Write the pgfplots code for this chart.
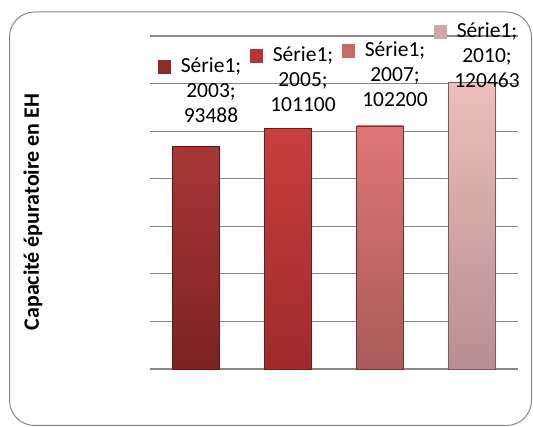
\documentclass[border=0pt]{standalone}
\usepackage{pgfplots}
\pgfplotsset{compat=1.18}
\usepackage{fontspec}
\setmainfont{Carlito}
\definecolor{gridgray}{HTML}{878787}
\definecolor{framegray}{HTML}{888888}
\definecolor{bAt}{HTML}{A83636}\definecolor{bAb}{HTML}{7E2222}\definecolor{bAd}{HTML}{5A1818}
\definecolor{bBt}{HTML}{C83E3E}\definecolor{bBb}{HTML}{9E2A2A}\definecolor{bBd}{HTML}{6A1C1C}
\definecolor{bCt}{HTML}{DE7676}\definecolor{bCb}{HTML}{AA5A5A}\definecolor{bCd}{HTML}{6E3434}
\definecolor{bDt}{HTML}{EDBEBE}\definecolor{bDb}{HTML}{B88E8E}\definecolor{bDd}{HTML}{7A5A5A}
\definecolor{kA}{HTML}{8E2A2A}\definecolor{kB}{HTML}{B63434}\definecolor{kC}{HTML}{C86A6A}\definecolor{kD}{HTML}{D4A6A6}
\newcommand{\key}[1]{\llap{\textcolor{#1}{\rule[-1.5pt]{13pt}{13.5pt}}\hspace{10pt}}}
\begin{document}
\begin{tikzpicture}
\draw[framegray, line width=1pt, rounded corners=25pt] (9.5pt,1.5pt) rectangle (531.5pt,415pt);
\node[rotate=90, font=\bfseries\fontsize{22}{26}\selectfont] at (33pt,215pt) {Capacité épuratoire en EH};
\begin{axis}[
  at={(150pt,58pt)}, anchor=south west,
  scale only axis, width=368pt, height=333pt,
  xmin=-0.5, xmax=3.5, ymin=0, ymax=140000,
  ytick={0,20000,40000,60000,80000,100000,120000,140000},
  scaled y ticks=false,
  yticklabels={}, xtick=\empty,
  tick style={draw=none},
  ymajorgrids, major grid style={draw=gridgray, line width=1.1pt},
  axis line style={draw=none},
  ybar, bar width=47pt, bar shift=0pt,
  clip=false,
  every node near coord/.append style={anchor=south, align=center, inner sep=0pt, xshift=15pt, font=\fontsize{21.5}{25}\selectfont, text=black},
]
\addplot[top color=bAt, bottom color=bAb, draw=bAd, line width=0.6pt,
  nodes near coords={\key{kA}Série1;\\2003;\\93488},
  every node near coord/.append style={yshift=24pt}] coordinates {(0,93488)};
\addplot[top color=bBt, bottom color=bBb, draw=bBd, line width=0.6pt,
  nodes near coords={\key{kB}Série1;\\2005;\\101100},
  every node near coord/.append style={yshift=17pt}] coordinates {(1,101100)};
\addplot[top color=bCt, bottom color=bCb, draw=bCd, line width=0.6pt,
  nodes near coords={\key{kC}Série1;\\2007;\\102200},
  every node near coord/.append style={yshift=19pt}] coordinates {(2,102200)};
\addplot[top color=bDt, bottom color=bDb, draw=bDd, line width=0.6pt,
  nodes near coords={\key{kD}Série1;\\2010;\\120463},
  every node near coord/.append style={yshift=-5pt}] coordinates {(3,120463)};
\end{axis}
\pgfresetboundingbox
\path (0,0) rectangle (533pt,427pt);
\end{tikzpicture}
\end{document}
